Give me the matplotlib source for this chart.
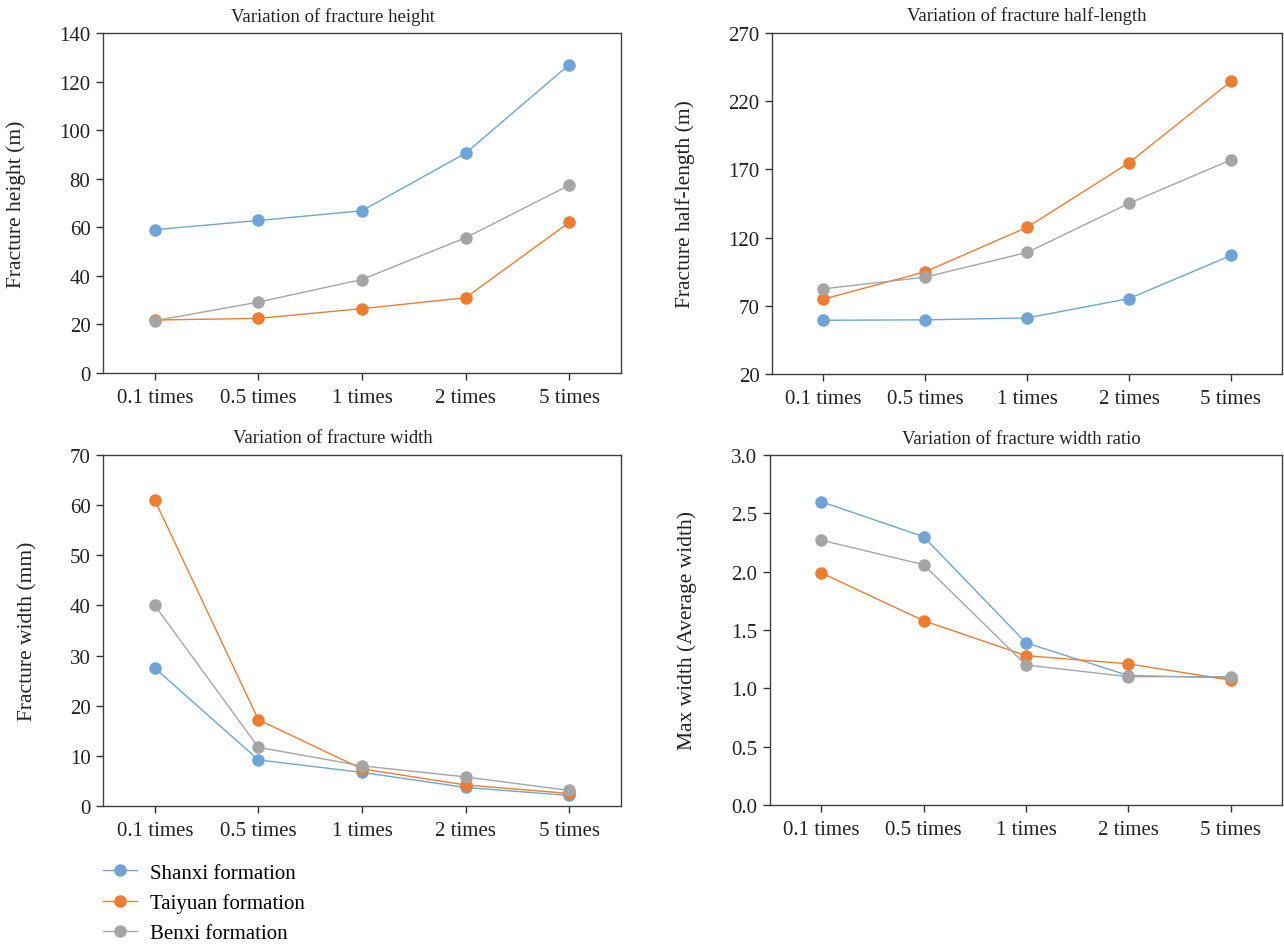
import numpy as np
import matplotlib.pyplot as plt

plt.rcParams['font.family'] = ['Liberation Serif', 'DejaVu Serif']

categories = ['0.1 times', '0.5 times', '1 times', '2 times', '5 times']
series_names = ['Shanxi formation', 'Taiyuan formation', 'Benxi formation']
colors = ['#6fa4d8', '#ed7d31', '#a5a5a5']

# fracture height (m)
height_shanxi = [59.0, 62.8, 66.8, 90.5, 127.0]
height_taiyuan = [21.8, 22.5, 26.5, 31.0, 62.0]
height_benxi = [21.5, 29.2, 38.5, 55.7, 77.3]

# fracture half-length (m)
length_shanxi = [59.4, 59.7, 61.1, 75.3, 106.9]
length_taiyuan = [74.8, 94.9, 127.5, 174.8, 234.5]
length_benxi = [82.4, 91.0, 109.1, 145.1, 177.0]

# fracture width (mm)
width_shanxi = [27.5, 9.2, 6.7, 3.7, 2.1]
width_taiyuan = [61.0, 17.2, 7.4, 4.2, 2.5]
width_benxi = [40.0, 11.7, 8.0, 5.8, 3.1]

# max width / average width
ratio_shanxi = [2.60, 2.30, 1.39, 1.11, 1.09]
ratio_taiyuan = [1.99, 1.58, 1.28, 1.21, 1.07]
ratio_benxi = [2.27, 2.06, 1.20, 1.10, 1.10]

panels = [
    dict(rect=[103/1284, 1-374/945, 518/1284, 340/945],
         title='Variation of fracture height', title_x=0.444,
         ylabel='Fracture height (m)', ylab_x=-0.149,
         data=[height_shanxi, height_taiyuan, height_benxi],
         ylim=(0, 140), yticks=np.arange(0, 141, 20), fmt='{:.0f}'),
    dict(rect=[772/1284, 1-375/945, 510/1284, 341/945],
         title='Variation of fracture half-length', title_x=0.5,
         ylabel='Fracture half-length (m)', ylab_x=-0.151,
         data=[length_shanxi, length_taiyuan, length_benxi],
         ylim=(20, 270), yticks=np.arange(20, 271, 50), fmt='{:.0f}'),
    dict(rect=[103/1284, 1-807/945, 518/1284, 351/945],
         title='Variation of fracture width', title_x=0.444,
         ylabel='Fracture width (mm)', ylab_x=-0.127,
         data=[width_shanxi, width_taiyuan, width_benxi],
         ylim=(0, 70), yticks=np.arange(0, 71, 10), fmt='{:.0f}'),
    dict(rect=[770/1284, 1-806/945, 512/1284, 350/945],
         title='Variation of fracture width ratio', title_x=0.49,
         ylabel='Max width (Average width)', ylab_x=-0.143,
         data=[ratio_shanxi, ratio_taiyuan, ratio_benxi],
         ylim=(0, 3.0), yticks=np.arange(0, 3.01, 0.5), fmt='{:.1f}'),
]

fig = plt.figure(figsize=(12.84, 9.45), dpi=100)
x = np.arange(len(categories))
handles = []

for p in panels:
    ax = fig.add_axes(p['rect'])
    for vals, name, c in zip(p['data'], series_names, colors):
        h, = ax.plot(x, vals, color=c, lw=1.0, marker='o', markersize=8,
                     label=name)
        if len(handles) < 3:
            handles.append(h)
    ax.set_xlim(-0.5, 4.5)
    ax.set_ylim(*p['ylim'])
    ax.set_xticks(x)
    ax.set_xticklabels(categories)
    ax.set_yticks(p['yticks'])
    ax.set_yticklabels([p['fmt'].format(v) for v in p['yticks']])
    ax.tick_params(labelsize=15, colors='#333333', labelcolor='#222222',
                   length=5, width=1, direction='out')
    ax.tick_params(axis='x', pad=6)
    ax.tick_params(axis='y', pad=4)
    for s in ax.spines.values():
        s.set_color('#404040')
        s.set_linewidth(1.0)
    ax.set_title(p['title'], fontsize=13.5, x=p['title_x'], pad=9,
                 color='#222222')
    ax.set_ylabel(p['ylabel'], fontsize=15.5, color='#222222')
    ax.yaxis.set_label_coords(p['ylab_x'], 0.5)

fig.legend(handles, series_names, loc='upper left',
           bbox_to_anchor=(103/1284, 1-864/945), frameon=False,
           fontsize=15, borderpad=0, borderaxespad=0, handlelength=1.63,
           handletextpad=0.62, labelspacing=0.5)

plt.savefig('out.png', dpi=100)
